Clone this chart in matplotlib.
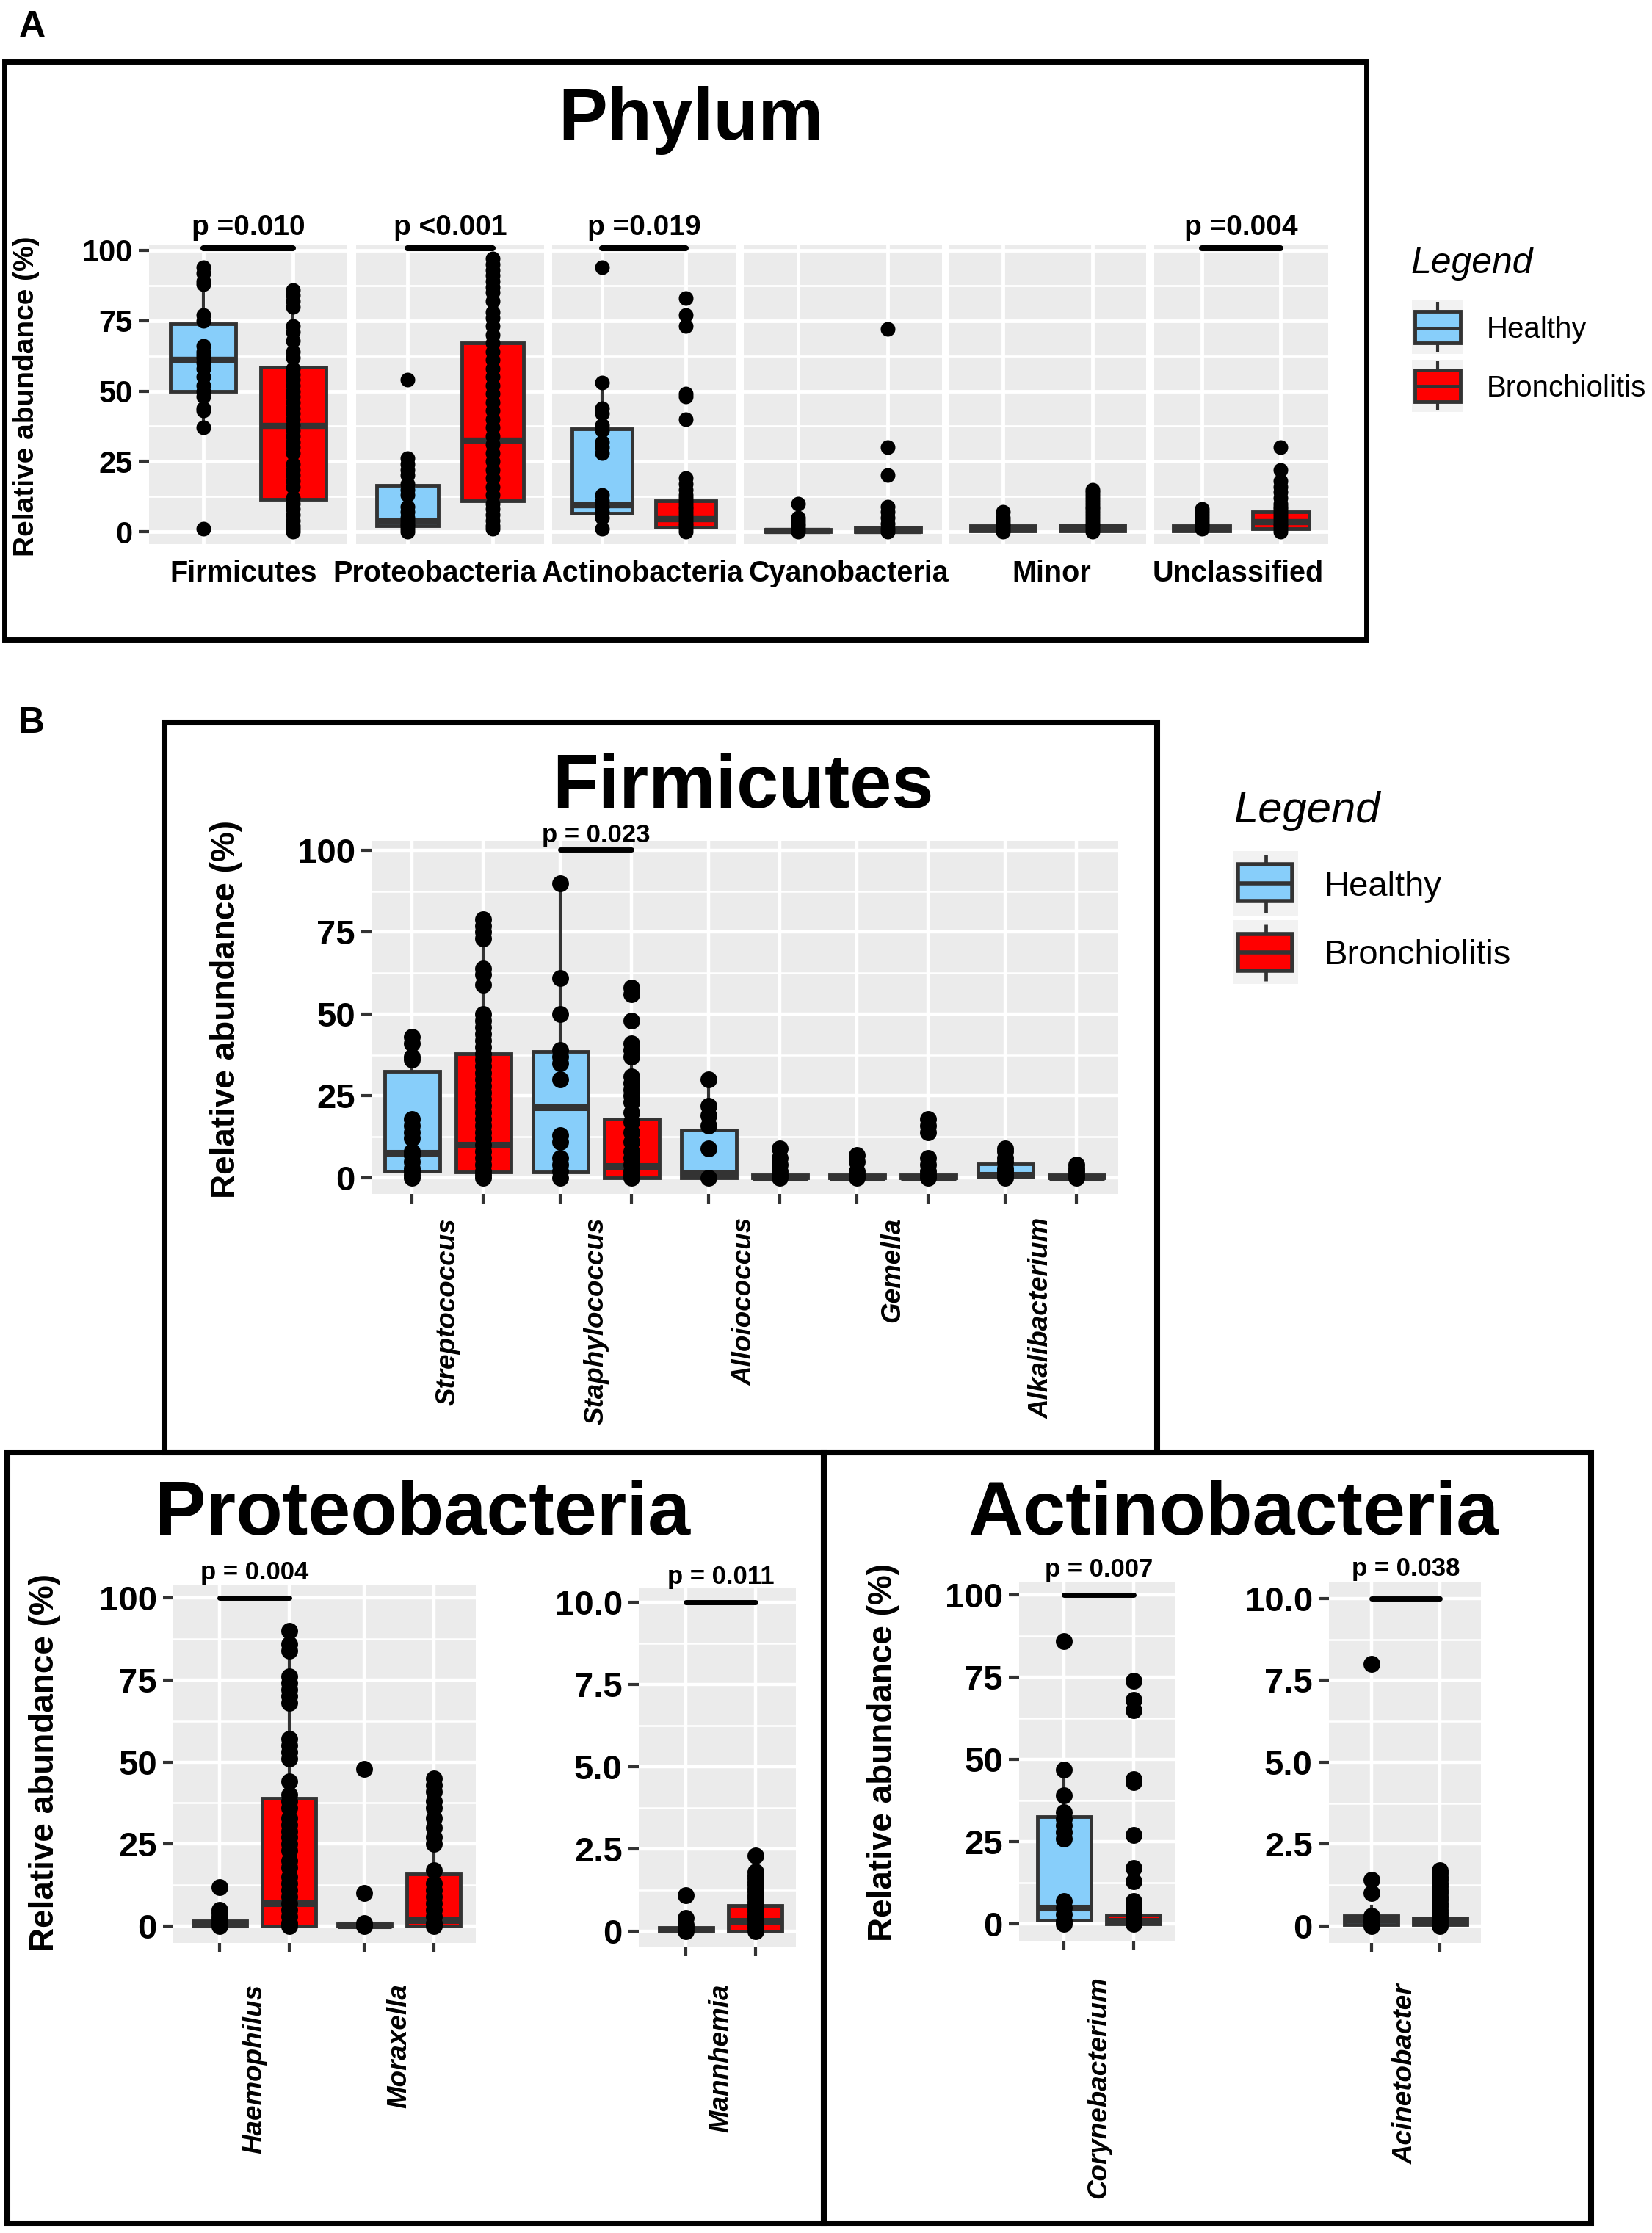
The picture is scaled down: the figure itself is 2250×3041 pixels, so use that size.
import matplotlib
matplotlib.use('Agg')
import matplotlib.pyplot as plt
import numpy as np
from matplotlib.patches import Rectangle

W, H = 2250, 3041

plt.rcParams['font.family'] = ['Liberation Sans', 'DejaVu Sans']
plt.rcParams['font.weight'] = 'bold'

HEALTHY = '#87CEFA'
BRONC = '#FF0000'
EDGE = '#333333'
PANEL_BG = '#EBEBEB'

# ---------------- data: panel A (phylum level) ----------------
# box stats are (whisker low, q1, median, q3, whisker high)
phyla = ['Firmicutes', 'Proteobacteria', 'Actinobacteria', 'Cyanobacteria', 'Minor', 'Unclassified']
phylum_healthy_stats = [(37, 50, 61, 74, 94), (0, 2, 3.7, 16.5, 27), (0.5, 6.5, 9.5, 36.5, 53),
                        (0, 0, 0.2, 0.8, 2), (0, 0.2, 0.8, 2, 4), (0, 0.3, 1, 2.2, 5)]
phylum_bronc_stats = [(0, 11.5, 37.5, 58.5, 86), (1, 11, 32.5, 67, 97), (0, 1.5, 4.5, 11, 19),
                      (0, 0, 0.3, 1.5, 3.5), (0, 0.2, 1, 2.3, 5), (0, 1, 3.5, 7, 15)]
phylum_healthy_pts = [
    [94, 92, 89, 88, 77, 75, 66, 64, 63, 62, 60, 58, 55, 52, 50, 48, 44, 43, 37, 1],
    [54, 26, 24, 22, 20, 17, 15, 13, 9, 7, 5, 4, 3, 2, 1, 0],
    [94, 53, 44, 42, 38, 36, 32, 30, 28, 13, 11, 9, 7, 5, 1],
    [10, 5, 4, 3, 2, 1, 0],
    [7, 5, 4, 3, 2, 1, 0],
    [8, 7, 6, 5, 4, 3, 2, 1],
]
phylum_bronc_pts = [
    [86, 84, 82, 80, 73, 71, 68, 64, 62, 58, 56, 54, 52, 50, 48, 46, 44, 42, 40, 38, 36, 34,
     32, 30, 28, 24, 22, 20, 18, 16, 12, 10, 8, 6, 4, 2, 1, 0],
    [97, 95, 93, 91, 89, 87, 85, 82, 78, 76, 73, 70, 67, 64, 61, 58, 55, 52, 49, 46, 43, 40,
     37, 34, 31, 28, 25, 22, 19, 16, 13, 10, 8, 6, 4, 2, 1],
    [83, 77, 73, 49, 48, 40, 19, 17, 15, 13, 12, 11, 10, 9, 8, 7, 6, 5, 4, 3, 2, 1, 0],
    [72, 30, 20, 9, 7, 5, 3, 1, 0],
    [15, 14, 13, 12, 11, 10, 9, 8, 7, 6, 5, 4, 3, 2, 1, 0],
    [30, 22, 18, 16, 14, 12, 10, 9, 8, 7, 6, 5, 4, 3, 2, 1, 0],
]
phylum_pvals = ['p =0.010', 'p <0.001', 'p =0.019', '', '', 'p =0.004']

# ---------------- data: panel B (genus level) ----------------
firm_genera = ['Streptococcus', 'Staphylococcus', 'Alloiococcus', 'Gemella', 'Alkalibacterium']
firm_h_stats = [(0, 2, 7.6, 32.5, 43), (0, 1.7, 21.5, 38.5, 90), (0, 0, 1.3, 14.6, 30),
                (0, 0, 0.2, 0.8, 1.5), (0, 0.2, 0.8, 4.3, 9)]
firm_b_stats = [(0, 1.7, 10, 38, 79), (0, 0, 3.6, 18, 41), (0, 0, 0.3, 0.9, 2),
                (0, 0, 0.3, 0.9, 2), (0, 0, 0.3, 0.8, 2)]
firm_h_pts = [
    [43, 41, 37, 36, 18, 16, 14, 12, 8, 7, 5, 3, 2, 1, 0],
    [90, 61, 50, 39, 37, 35, 30, 13, 11, 6, 4, 2, 0],
    [30, 22, 19, 16, 9, 0],
    [7, 5, 2, 1, 0],
    [9, 8, 6, 5, 3, 2, 1, 0],
]
firm_b_pts = [
    [79, 77, 75, 73, 64, 62, 59, 50, 48, 46, 44, 42, 40, 38, 36, 34, 32, 30, 28, 26, 24, 22,
     20, 18, 16, 14, 12, 10, 8, 6, 4, 2, 1, 0],
    [58, 56, 48, 41, 39, 37, 31, 29, 27, 25, 23, 20, 17, 14, 11, 8, 6, 4, 2, 1, 0],
    [9, 6, 4, 2, 1, 0],
    [18, 16, 14, 6, 4, 2, 1, 0],
    [4, 3, 2, 1, 0],
]
firm_pvals = ['', 'p = 0.023', '', '', '']

proteo_genera = ['Haemophilus', 'Moraxella']
proteo_h_stats = [(0, 0, 0.5, 1.5, 3), (0, 0, 0.2, 0.7, 1.5)]
proteo_b_stats = [(0, 0, 7, 39, 90), (0, 0, 1.8, 16, 40)]
proteo_h_pts = [[12, 5, 4, 3, 2, 1, 0], [48, 10, 1, 0]]
proteo_b_pts = [
    [90, 86, 84, 76, 74, 72, 70, 68, 57, 55, 53, 51, 44, 40, 38, 36, 33, 31, 29, 27, 25, 23,
     20, 18, 15, 13, 11, 9, 7, 5, 3, 1, 0],
    [45, 43, 41, 38, 36, 33, 30, 27, 25, 17, 13, 11, 9, 7, 5, 3, 1, 0],
]
proteo_pvals = ['p = 0.004', '']

mann_genera = ['Mannhemia']
mann_h_stats = [(0, 0, 0.05, 0.12, 0.3)]
mann_b_stats = [(0, 0, 0.3, 0.78, 2.3)]
mann_h_pts = [[1.1, 0.4, 0.2, 0.1, 0]]
mann_b_pts = [[2.3, 1.8, 1.7, 1.6, 1.5, 1.4, 1.3, 1.2, 1.1, 1.0, 0.9, 0.8, 0.7, 0.6, 0.5,
               0.4, 0.3, 0.2, 0.1, 0]]
mann_pvals = ['p = 0.011']

coryn_genera = ['Corynebacterium']
coryn_h_stats = [(0, 1.1, 4.9, 32.7, 47)]
coryn_b_stats = [(0, 0, 1, 2.6, 6)]
coryn_h_pts = [[86, 47, 39, 34, 32, 30, 28, 26, 7, 5, 3, 1, 0]]
coryn_b_pts = [[74, 68, 65, 44, 43, 27, 17, 13, 7, 5, 4, 3, 2, 1, 0]]
coryn_pvals = ['p = 0.007']

acin_genera = ['Acinetobacter']
acin_h_stats = [(0, 0.05, 0.2, 0.3, 0.6)]
acin_b_stats = [(0, 0.05, 0.15, 0.25, 0.5)]
acin_h_pts = [[8.0, 1.4, 1.0, 0.3, 0.2, 0.1, 0]]
acin_b_pts = [[1.7, 1.6, 1.5, 1.4, 1.3, 1.2, 1.1, 1.0, 0.9, 0.8, 0.7, 0.6, 0.5, 0.4, 0.3,
               0.2, 0.1, 0]]
acin_pvals = ['p = 0.038']

ticks_100 = [0, 25, 50, 75, 100]
ticks_100_lab = ['0', '25', '50', '75', '100']
minor_100 = [12.5, 37.5, 62.5, 87.5]
ticks_10 = [0, 2.5, 5.0, 7.5, 10.0]
ticks_10_lab = ['0', '2.5', '5.0', '7.5', '10.0']
minor_10 = [1.25, 3.75, 6.25, 8.75]


fig = plt.figure(figsize=(W / 100, H / 100), dpi=100)
over = fig.add_axes([0, 0, 1, 1])
over.set_xlim(0, W)
over.set_ylim(H, 0)
over.axis('off')


def px_axes(x0, y0, x1, y1):
    return fig.add_axes([x0 / W, 1 - y1 / H, (x1 - x0) / W, (y1 - y0) / H])


def gg_style(ax, yticks, ylabs, yminor, show_y, tick_size, grid_major, grid_minor):
    ax.set_facecolor(PANEL_BG)
    for s in ax.spines.values():
        s.set_visible(False)
    ax.set_yticks(yticks)
    ax.set_yticks(yminor, minor=True)
    if show_y:
        ax.set_yticklabels(ylabs)
        ax.tick_params(axis='y', which='major', length=10, width=3, color=EDGE, pad=6,
                       labelsize=tick_size, labelcolor='black')
    else:
        ax.set_yticklabels([])
        ax.tick_params(axis='y', which='major', length=0)
    ax.tick_params(axis='y', which='minor', length=0)
    ax.grid(which='major', color='white', lw=grid_major)
    ax.grid(which='minor', axis='y', color='white', lw=grid_minor)
    ax.set_axisbelow(True)


def draw_box(ax, pos, s, color, width, lw_box, lw_med):
    st = dict(whislo=s[0], q1=s[1], med=s[2], q3=s[3], whishi=s[4])
    ax.bxp([st], positions=[pos], widths=width, patch_artist=True, showfliers=False,
           showcaps=False, manage_ticks=False,
           boxprops=dict(facecolor=color, edgecolor=EDGE, linewidth=lw_box),
           medianprops=dict(color=EDGE, linewidth=lw_med, solid_capstyle='butt'),
           whiskerprops=dict(color=EDGE, linewidth=lw_box * 0.85))


def draw_pts(ax, pos, vals, ms):
    ax.plot(np.full(len(vals), pos), vals, 'o', color='black', ms=ms, mew=0,
            zorder=5, clip_on=False)


def bracket(ax, x1, x2, y, text, lw, size, off):
    ax.plot([x1, x2], [y, y], color='black', lw=lw, solid_capstyle='round',
            zorder=6, clip_on=False)
    ax.annotate(text, xy=((x1 + x2) / 2, y), xytext=(0, off), textcoords='offset points',
                ha='center', va='bottom', fontsize=size, annotation_clip=False)


# ---------------- panel A ----------------
facet_x = [(203, 473), (485, 741), (752, 1002), (1013, 1283), (1293, 1561), (1572, 1809)]
label_x = [332, 592, 875, 1156, 1432, 1686]
for i, name in enumerate(phyla):
    x0, x1 = facet_x[i]
    ax = px_axes(x0, 334, x1, 741)
    ax.set_xlim(0.4, 2.6)
    ax.set_ylim(-4.4, 101.8)
    gg_style(ax, ticks_100, ticks_100_lab, minor_100, i == 0, 30, 3.5, 2.0)
    ax.set_xticks([1, 2])
    ax.set_xticklabels([])
    ax.tick_params(axis='x', length=0)
    draw_box(ax, 1, phylum_healthy_stats[i], HEALTHY, 0.72, 3.5, 6)
    draw_box(ax, 2, phylum_bronc_stats[i], BRONC, 0.72, 3.5, 6)
    draw_pts(ax, 1, phylum_healthy_pts[i], 14.4)
    draw_pts(ax, 2, phylum_bronc_pts[i], 14.4)
    if phylum_pvals[i]:
        bracket(ax, 1, 2, 100.8, phylum_pvals[i], 5.8, 28, 7)
    over.text(label_x[i], 792, name, ha='center', va='baseline', fontsize=28.5)

# ---------------- panel B ----------------
OFF = 0.24


def genus_panel(rect, genera, h_stats, b_stats, h_pts, b_pts, pvals, xlim, ylim,
                yticks, ylabs, yminor, pad, p_off, p_y):
    ax = px_axes(*rect)
    ax.set_xlim(*xlim)
    ax.set_ylim(*ylim)
    gg_style(ax, yticks, ylabs, yminor, True, 34, 3.2, 1.8)
    centers = np.arange(1, len(genera) + 1)
    hpos = centers - OFF
    bpos = centers + OFF
    ax.set_xticks(np.sort(np.concatenate([hpos, bpos])))
    ax.set_xticklabels([])
    ax.tick_params(axis='x', which='major', length=9.5, width=3, color=EDGE)
    ax.set_xticks(centers, minor=True)
    ax.set_xticklabels(genera, minor=True, rotation=90, style='italic', fontsize=26.5,
                       va='top', ha='center')
    ax.tick_params(axis='x', which='minor', length=0, pad=pad)
    for k in range(len(genera)):
        draw_box(ax, hpos[k], h_stats[k], HEALTHY, 0.37, 3.5, 6.5)
        draw_box(ax, bpos[k], b_stats[k], BRONC, 0.37, 3.5, 6.5)
        draw_pts(ax, hpos[k], h_pts[k], 16.5)
        draw_pts(ax, bpos[k], b_pts[k], 16.5)
        if pvals[k]:
            bracket(ax, hpos[k], bpos[k], p_y, pvals[k], 5, 25, p_off)
    return ax


genus_panel((506, 1145, 1523, 1626), firm_genera, firm_h_stats, firm_b_stats, firm_h_pts,
            firm_b_pts, firm_pvals, (0.486, 5.52), (-4.93, 102.9),
            ticks_100, ticks_100_lab, minor_100, 23, 2, 100.2)
genus_panel((236, 2159, 648, 2646), proteo_genera, proteo_h_stats, proteo_b_stats,
            proteo_h_pts, proteo_b_pts, proteo_pvals, (0.44, 2.53), (-5.1, 103.8),
            ticks_100, ticks_100_lab, minor_100, 40, 13, 100)
genus_panel((870, 2163, 1084, 2651), mann_genera, mann_h_stats, mann_b_stats, mann_h_pts,
            mann_b_pts, mann_pvals, (0.435, 1.52), (-0.47, 10.42),
            ticks_10, ticks_10_lab, minor_10, 36, 13, 10)
genus_panel((1388, 2155, 1600, 2643), coryn_genera, coryn_h_stats, coryn_b_stats,
            coryn_h_pts, coryn_b_pts, coryn_pvals, (0.45, 1.524), (-5.1, 103.8),
            ticks_100, ticks_100_lab, minor_100, 35, 13, 100)
genus_panel((1810, 2155, 2017, 2646), acin_genera, acin_h_stats, acin_b_stats, acin_h_pts,
            acin_b_pts, acin_pvals, (0.466, 1.524), (-0.52, 10.49),
            ticks_10, ticks_10_lab, minor_10, 40, 17, 10)

# ---------------- frames, titles, labels, legends ----------------
for (x0, y0, x1, y1, lw) in [(6, 84, 1861, 871, 5), (224, 984, 1576, 1978, 5.8),
                             (10, 1978, 1122, 3028, 5.8), (1122, 1978, 2167, 3028, 5.8)]:
    over.add_patch(Rectangle((x0, y0), x1 - x0, y1 - y0, fill=False, ec='black', lw=lw))

over.text(44, 37, 'A', ha='center', va='center', fontsize=36)
over.text(43, 985, 'B', ha='center', va='center', fontsize=36)
over.text(941, 190, 'Phylum', ha='center', va='baseline', fontsize=72)
over.text(1012, 1100, 'Firmicutes', ha='center', va='baseline', fontsize=74)
over.text(576, 2090, 'Proteobacteria', ha='center', va='baseline', fontsize=75)
over.text(1680, 2090, 'Actinobacteria', ha='center', va='baseline', fontsize=75)

ylab = 'Relative abundance (%)'
over.text(36, 540, ylab, rotation=90, ha='center', va='center', fontsize=28)
over.text(308, 1374, ylab, rotation=90, ha='center', va='center', fontsize=33)
over.text(61, 2401, ylab, rotation=90, ha='center', va='center', fontsize=33)
over.text(1203, 2387, ylab, rotation=90, ha='center', va='center', fontsize=33)


def legend_key(bg, rect, med, whisk, color, lw):
    bx0, by0, bx1, by1 = bg
    over.add_patch(Rectangle((bx0, by0), bx1 - bx0, by1 - by0, fc='#F2F2F2', ec='none'))
    xc = (bx0 + bx1) / 2
    over.plot([xc, xc], [whisk[0], rect[1]], color=EDGE, lw=lw * 0.85, solid_capstyle='butt')
    over.plot([xc, xc], [rect[3], whisk[1]], color=EDGE, lw=lw * 0.85, solid_capstyle='butt')
    over.add_patch(Rectangle((rect[0], rect[1]), rect[2] - rect[0], rect[3] - rect[1],
                             fc=color, ec=EDGE, lw=lw))
    over.plot([rect[0], rect[2]], [med, med], color=EDGE, lw=lw, solid_capstyle='butt')


# legend A
over.text(1921, 372, 'Legend', style='italic', fontweight='normal', fontsize=36, va='baseline')
legend_key((1923, 409, 1993, 482), (1927, 424, 1989, 467), 447, (411, 480), HEALTHY, 3.5)
legend_key((1923, 490, 1993, 561), (1927, 504, 1989, 547), 526, (492, 559), BRONC, 3.5)
over.text(2025, 460, 'Healthy', fontweight='normal', fontsize=29, va='baseline')
over.text(2025, 540, 'Bronchiolitis', fontweight='normal', fontsize=29, va='baseline')

# legend B
over.text(1680, 1120, 'Legend', style='italic', fontweight='normal', fontsize=43, va='baseline')
legend_key((1680, 1159, 1768, 1247), (1686, 1177, 1760, 1227), 1203, (1164, 1243), HEALTHY, 4)
legend_key((1680, 1253, 1768, 1340), (1686, 1272, 1760, 1322), 1297, (1259, 1336), BRONC, 4)
over.text(1803, 1220, 'Healthy', fontweight='normal', fontsize=34, va='baseline')
over.text(1803, 1313, 'Bronchiolitis', fontweight='normal', fontsize=34, va='baseline')

fig.savefig('out.png', dpi=100)
